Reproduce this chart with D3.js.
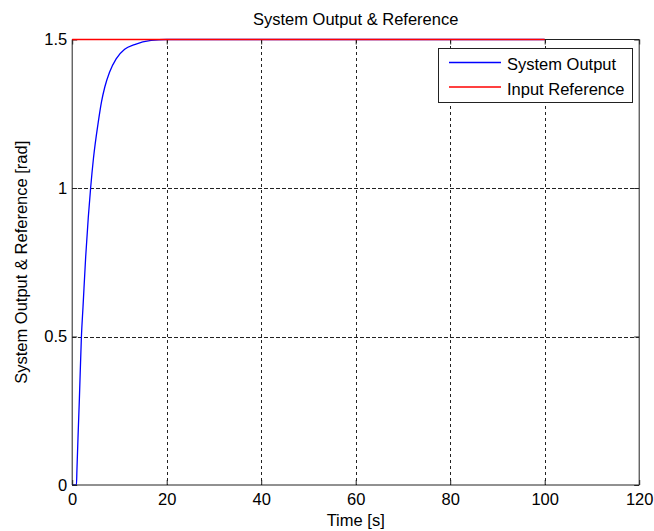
<!DOCTYPE html>
<html>
<head>
<meta charset="utf-8">
<script src="https://cdn.jsdelivr.net/npm/d3@7"></script>
<style>
  html, body { margin: 0; padding: 0; background: #fff; }
  svg { display: block; }
  text { font-family: "Liberation Sans", Arial, sans-serif; fill: #000; }
</style>
</head>
<body>
<svg id="chart" width="654" height="531"></svg>
<script>
// Step response samples of the system output (time in s, angle in rad)
const outputTime  = [0, 0.9, 1.0, 1.23, 1.52, 1.95, 2.29, 2.86, 3.4, 3.9, 4.5, 5.5, 6.2, 6.9, 7.9, 9.3, 11.1, 13.2, 16.7, 20, 40, 60, 80, 100];
const outputValue = [0, 0,   0.05, 0.16, 0.29, 0.50, 0.60, 0.77, 0.90, 1.00, 1.10, 1.22, 1.29, 1.34, 1.39, 1.435, 1.467, 1.483, 1.497, 1.5, 1.5, 1.5, 1.5, 1.5];

// Constant input reference
const referenceTime  = [0, 100];
const referenceValue = [1.5, 1.5];

// Axis ticks
const xTicks = [0, 20, 40, 60, 80, 100, 120];
const yTicks = [0, 0.5, 1, 1.5];
const yTickLabels = ["0", "0.5", "1", "1.5"];

const seriesNames = ["System Output", "Input Reference"];
const seriesColors = ["#0000ff", "#ff0000"];

const svg = d3.select("#chart");
const FONT = "16.5px";

const plotL = 72.2, plotR = 639.2, plotT = 39.5, plotB = 485;
const x = d3.scaleLinear().domain([0, 120]).range([plotL, plotR]);
const y = d3.scaleLinear().domain([0, 1.5]).range([plotB, plotT]);

// Dashed grid
const grid = svg.append("g").attr("stroke", "#222").attr("stroke-width", 1)
  .attr("stroke-dasharray", "3.5,2.5").attr("shape-rendering", "crispEdges");
grid.selectAll("line.v").data(xTicks.slice(1, -1)).join("line")
  .attr("x1", d => Math.round(x(d)) + 0.5).attr("x2", d => Math.round(x(d)) + 0.5)
  .attr("y1", plotT).attr("y2", plotB);
grid.selectAll("line.h").data(yTicks.slice(1, -1)).join("line")
  .attr("y1", d => Math.round(y(d)) + 0.5).attr("y2", d => Math.round(y(d)) + 0.5)
  .attr("x1", plotL).attr("x2", plotR);

const line = d3.line().x(d => x(d[0])).y(d => y(d[1])).curve(d3.curveMonotoneX);

// System output
svg.append("path")
  .datum(d3.zip(outputTime, outputValue))
  .attr("fill", "none").attr("stroke", seriesColors[0]).attr("stroke-width", 1.3)
  .attr("d", line);

// Axes (box with inward ticks)
const fmtY = (d) => yTickLabels[yTicks.indexOf(d)];
const axB = svg.append("g").attr("transform", `translate(0,${plotB})`)
  .call(d3.axisBottom(x).tickValues(xTicks).tickSize(-5).tickPadding(8).tickFormat(d3.format("d")));
const axT = svg.append("g").attr("transform", `translate(0,${plotT})`)
  .call(d3.axisTop(x).tickValues(xTicks).tickSize(-5).tickFormat(""));
const axL = svg.append("g").attr("transform", `translate(${plotL},0)`)
  .call(d3.axisLeft(y).tickValues(yTicks).tickSize(-5).tickPadding(5).tickFormat(fmtY));
const axR = svg.append("g").attr("transform", `translate(${plotR},0)`)
  .call(d3.axisRight(y).tickValues(yTicks).tickSize(-5).tickFormat(""));
[axB, axT, axL, axR].forEach(g => {
  g.select(".domain").attr("stroke", "#222");
  g.selectAll(".tick line").attr("stroke", "#222");
  g.selectAll("text").style("font-size", FONT).attr("font-family", null);
});
[axB, axT].forEach(g => g.select(".domain").attr("d", `M${plotL},0H${plotR}`));
[axL, axR].forEach(g => g.select(".domain").attr("d", `M0,${plotT}V${plotB}`));

// Input reference drawn over the top edge
svg.append("path")
  .datum(d3.zip(referenceTime, referenceValue))
  .attr("fill", "none").attr("stroke", seriesColors[1]).attr("stroke-width", 1.3)
  .attr("d", d3.line().x(d => x(d[0])).y(d => y(d[1])));

// Title and axis labels
svg.append("text").attr("x", (plotL + plotR) / 2).attr("y", 25)
  .attr("text-anchor", "middle").style("font-size", FONT).text("System Output & Reference");
svg.append("text").attr("x", (plotL + plotR) / 2).attr("y", 526)
  .attr("text-anchor", "middle").style("font-size", FONT).text("Time [s]");
svg.append("text").attr("transform", `translate(27,${(plotT + plotB) / 2}) rotate(-90)`)
  .attr("text-anchor", "middle").style("font-size", FONT).text("System Output & Reference [rad]");

// Legend
const lg = svg.append("g");
lg.append("rect").attr("x", 438.5).attr("y", 48.5).attr("width", 194).attr("height", 54)
  .attr("fill", "#fff").attr("stroke", "#222").attr("stroke-width", 1);
seriesNames.forEach((name, i) => {
  const cy = 62.5 + i * 24.5;
  lg.append("line").attr("x1", 449).attr("x2", 501).attr("y1", cy).attr("y2", cy)
    .attr("stroke", seriesColors[i]).attr("stroke-width", 1.3);
  lg.append("text").attr("x", 507).attr("y", cy + 7.5).style("font-size", FONT).text(name);
});
</script>
</body>
</html>
